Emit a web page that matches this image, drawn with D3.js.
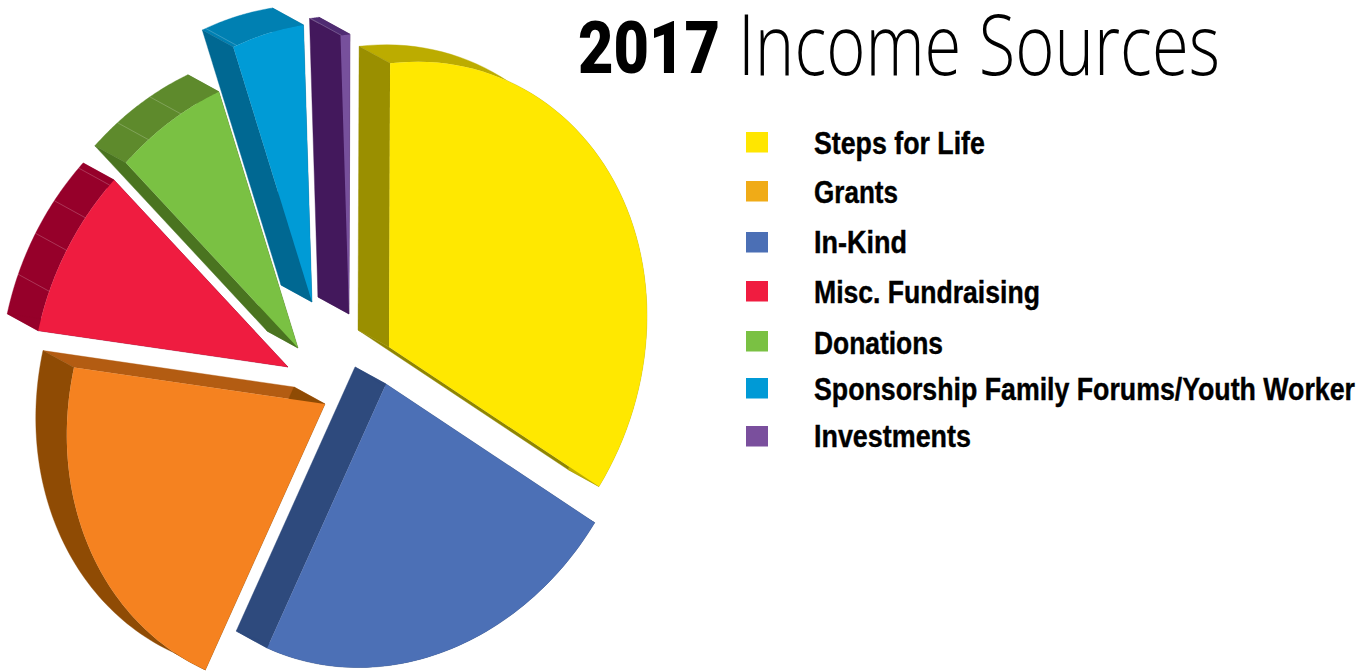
<!DOCTYPE html>
<html><head><meta charset="utf-8">
<script src="https://d3js.org/d3.v7.min.js"></script>
<style>html,body{margin:0;background:#fff}svg{display:block}</style></head>
<body><svg id="c" width="1372" height="671"></svg>
<script>
// ---- data (legend order) ----
const categories = ["Steps for Life","Grants","In-Kind","Misc. Fundraising","Donations","Sponsorship Family Forums/Youth Worker","Investments"];
const shares = [34.8,21.1,22.8,9.4,6.8,4.5,0.6];
const swatchColors = ["#ffe600","#f0ab17","#4b6fb5","#f01c40","#7ac143","#009ad6","#7a4f9d"];

// ---- styles, per category ----
const faceColors = ["#ffe800","#f58220","#4c70b6","#ef1c40","#7ac143","#009bd6","#77509c"];
const startSide  = ["#9a8f00","#8f4b04","#2e4a7d","#96002a","#4a7420","#006892","#43185c"];
const endSide    = ["#8f8500","#b35c12","#2e4a7d","#96002a","#4a7420","#006892","#43185c"];
const rimSide    = ["#bcac00","#8f4b04","#2e4a7d","#96002a","#5e8a2c","#0080b2","#4f2b72"];
const seams      = [[],[],[],[.24,.5,.72,.96],[.27,.62],[.05],[.1]];
// ---- layout: apex of each exploded slice on the page, and tilt of the disc ----
const apex = [[389,347],[325,404],[386,384],[288,367],[298,348],[312,302],[349,314]];
const radii = [1.004,1.005,0.998,1,0.99,0.985,0.99];
const semiMajor = 290, semiMinor = 250, tiltU = [0.4,-0.917], tiltV = [0.917,0.4];
const depth = [-31,-17];
const startAngle = -26.6*Math.PI/180;
const swatchTops = [132,181,232,281,331,378,426];
const baselines = [154,203,253,303,354,400,447];
const legendWidths = [171,84,93,226,129,541,157];

const svg = d3.select("#c");
const pie = d3.pie().startAngle(startAngle).endAngle(startAngle+2*Math.PI);
const arcs = pie(shares);
const mx = d3.scaleLinear().domain([0,1]).range([0,semiMajor]);
const my = d3.scaleLinear().domain([0,1]).range([0,semiMinor]);
const line = d3.line();
function rimPoint(i,t){
  const o=apex[i], k=radii[i];
  const p=mx(Math.cos(t))*k, q=my(Math.sin(t))*k;
  return [o[0]+p*tiltU[0]+q*tiltV[0], o[1]+p*tiltU[1]+q*tiltV[1]];
}
const back = p=>[p[0]+depth[0],p[1]+depth[1]];
const sides = svg.append("g"), tops = svg.append("g"), lines = svg.append("g");
arcs.forEach((d,i)=>{
  const ts=d3.range(0,61).map(j=>d.startAngle+(d.endAngle-d.startAngle)*j/60);
  const rim=ts.map(t=>rimPoint(i,t));
  const o=apex[i];
  const poly=(pts,c)=>sides.append("path").attr("d",line(pts)+"Z").attr("fill",c).attr("stroke",c).attr("stroke-width",.4);
  poly([o,rim[60],back(rim[60]),back(o)],endSide[i]);
  poly(rim.concat(rim.map(back).reverse()),rimSide[i]);
  poly([o,rim[0],back(rim[0]),back(o)],startSide[i]);
  seams[i].forEach(f=>{
    const p=rimPoint(i,d.startAngle+(d.endAngle-d.startAngle)*f);
    lines.append("path").attr("d",line([p,back(p)])).attr("stroke","#fff").attr("stroke-opacity",.3).attr("stroke-width",.7);
  });
  tops.append("path").attr("d",line([o].concat(rim))+"Z").attr("fill",faceColors[i]);
});
// squeeze a text to a measured width; sy stretches a smaller font to its full height
function fit(sel,x,y,w,sy){
  const n=sel.node().getComputedTextLength();
  sel.attr("transform",`translate(${x},${y}) scale(${w/n},${sy||1})`);
}
// legend
const lg=svg.append("g");
categories.forEach((c,i)=>{
  lg.append("rect").attr("x",746).attr("y",swatchTops[i]).attr("width",22).attr("height",20.5).attr("fill",swatchColors[i]);
  const t=lg.append("text").attr("font-family","'Liberation Sans Narrow','Liberation Sans'").attr("font-weight",700).attr("font-size",31)
    .attr("fill","#000").attr("stroke","#000").attr("stroke-width",.4).text(c);
  fit(t,814,baselines[i],legendWidths[i]);
});
// title
fit(svg.append("text").attr("font-family","Roboto").attr("font-weight",900).attr("font-size",73).attr("fill","#000").text("2017"),578,73,142);
fit(svg.append("text").attr("font-family","'Open Sans'").attr("font-weight",300).attr("font-size",60).attr("fill","#000").text("Income Sources"),738,75,482,85/60);
</script></body></html>
